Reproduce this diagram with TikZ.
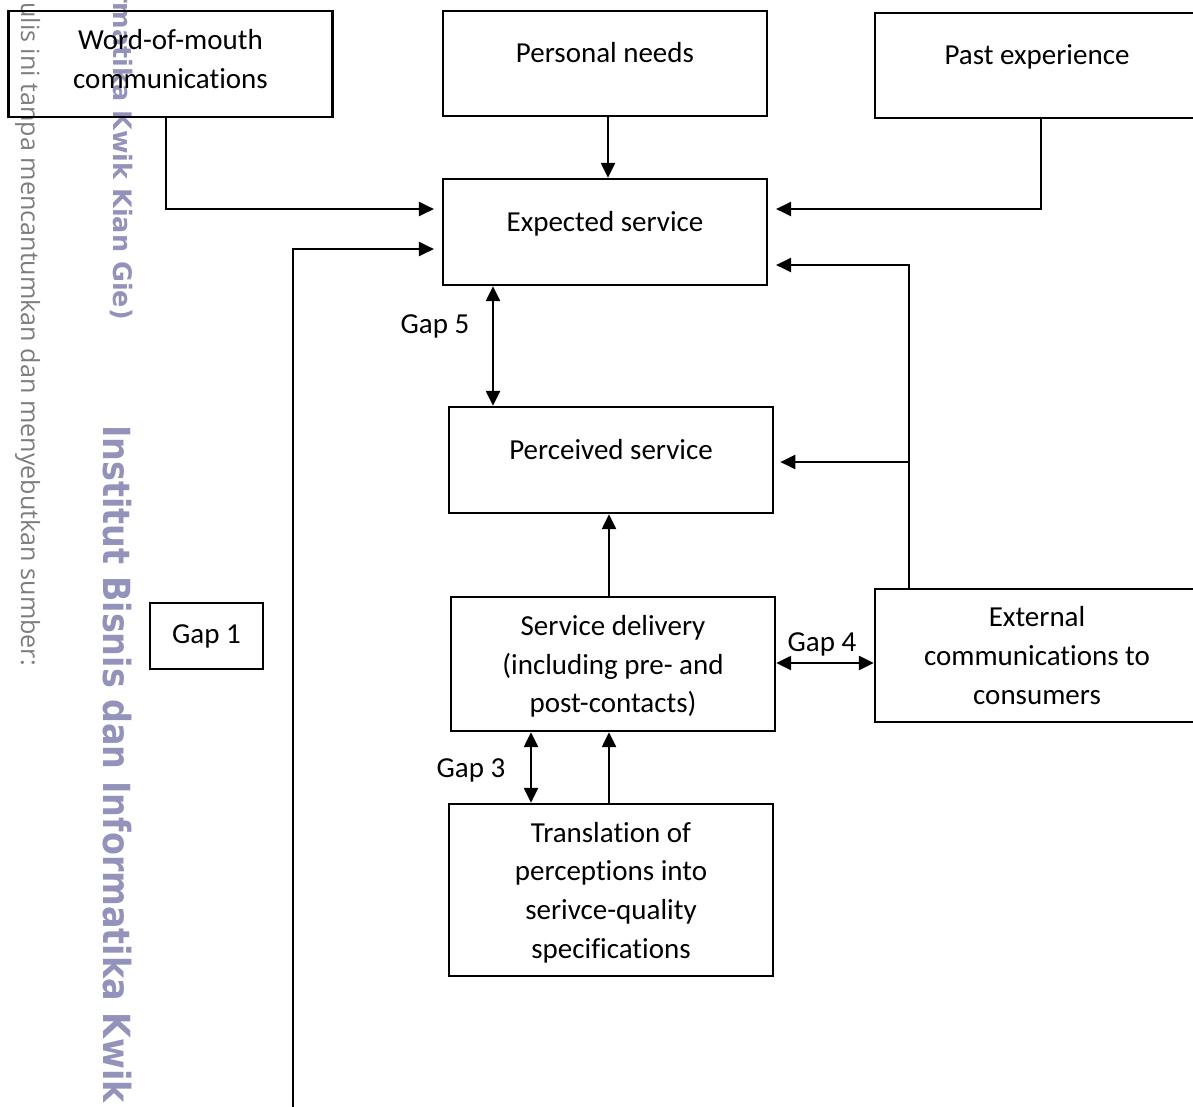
\documentclass[tikz,border=0pt]{standalone}
\usepackage{fontspec}
\setmainfont{Carlito}[Ligatures=NoCommon]
\newfontfamily\wmfont{DejaVu Sans}
\newfontfamily\thinfont{Open Sans}
\usetikzlibrary{arrows.meta,calc}
\definecolor{wmpurple}{RGB}{146,146,186}
\definecolor{wmgray}{RGB}{125,125,125}

\tikzset{
  box/.style={draw, line width=1.4pt, minimum width=6.48cm, align=center,
    inner sep=2pt, font=\fontsize{16.5}{22}\selectfont},
  oneline/.style={text height=12pt, text depth=13pt},
  gaplabel/.style={inner sep=0pt, font=\fontsize{16.5}{22}\selectfont},
  arr/.style={line width=1.2pt, -{Triangle[length=8.5pt,width=8pt]}},
  sidearr/.style={arr, shorten >=4.5pt},
  dbl/.style={line width=1.2pt, {Triangle[length=8.5pt,width=8pt]}-{Triangle[length=8.5pt,width=8pt]}},
  wmark/.style={rotate=-90, inner sep=0pt, anchor=base west}
}

\begin{document}
\begin{tikzpicture}[x=0.02cm,y=-0.02cm]
\useasboundingbox (0,0) rectangle (1193,1106);
\clip (0,0) rectangle (1193,1106);

% watermark of the scanned page
\node[wmark, text=wmgray, font=\thinfont\fontsize{14.3}{14}\selectfont] (wmnote) at (21,2)
  {ulis ini tanpa mencantumkan dan menyebutkan sumber:};
\node[wmark, anchor=base east, text=wmpurple, font=\wmfont\bfseries\fontsize{14.5}{14.5}\selectfont] (wmsmall) at (113,320)
  {Informatika Kwik Kian Gie)};
\node[wmark, text=wmpurple, font=\wmfont\bfseries\fontsize{19}{19}\selectfont] (wmbig) at (103,425)
  {\scalebox{1}[1.12]{Institut Bisnis dan Informatika Kwik}};

% boxes
\node[box, text depth=5.7pt, minimum height=2.12cm] (wom) at (170.5,64) {Word-of-mouth\\communications};
\node[box, oneline, minimum height=2.1cm] (needs) at (605,63.5) {Personal needs};
\node[box, oneline, minimum height=2.1cm] (past) at (1037,65.5) {Past experience};
\node[box, oneline, minimum height=2.12cm] (expect) at (605,232) {Expected service};
\node[box, oneline, minimum height=2.12cm] (perceive) at (611,460) {Perceived service};
\node[box, text depth=0pt, minimum height=2.68cm] (deliver) at (613,664) {Service delivery\\(including pre- and\\post-contacts)};
\node[box, text depth=0pt, minimum height=3.44cm] (translate) at (611,890) {Translation of\\perceptions into\\serivce-quality\\specifications};
\node[box, minimum height=2.66cm] (extcom) at (1037,655.5) {External\\communications to\\consumers};
\node[box, line width=0.75pt, minimum width=2.26cm, minimum height=1.32cm] (gapone) at (206.5,636) {Gap 1};

% gap labels
\node[gaplabel] (gapfive) at (435,326) {Gap 5};
\node[gaplabel] (gapfour) at (822,644) {Gap 4};
\node[gaplabel] (gapthree) at (471,770) {Gap 3};

\coordinate (lowfeed) at (293,1120);
\coordinate (split) at (909,462);

% connectors
\draw[sidearr] (wom.south -| 166,0) |- (expect.west |- 0,209);
\draw[arr] (needs.south -| 608,0) -- (expect.north -| 608,0);
\draw[sidearr] (past.south -| 1041,0) |- (expect.east |- 0,209);
\draw[sidearr] (lowfeed) |- (expect.west |- 0,249);
\draw[dbl] (expect.south -| 493,0) -- (perceive.north -| 493,0);
\draw[sidearr] (extcom.north -| split) |- (expect.east |- 0,265);
\draw[sidearr, shorten >=3.5pt] (split) -- (perceive.east |- split);
\draw[arr] (deliver.north -| 609,0) -- (perceive.south -| 609,0);
\draw[dbl] (deliver.east |- 0,663) -- (extcom.west |- 0,663);
\draw[dbl] (translate.north -| 531,0) -- (deliver.south -| 531,0);
\draw[arr] (translate.north -| 609,0) -- (deliver.south -| 609,0);

\end{tikzpicture}
\end{document}
